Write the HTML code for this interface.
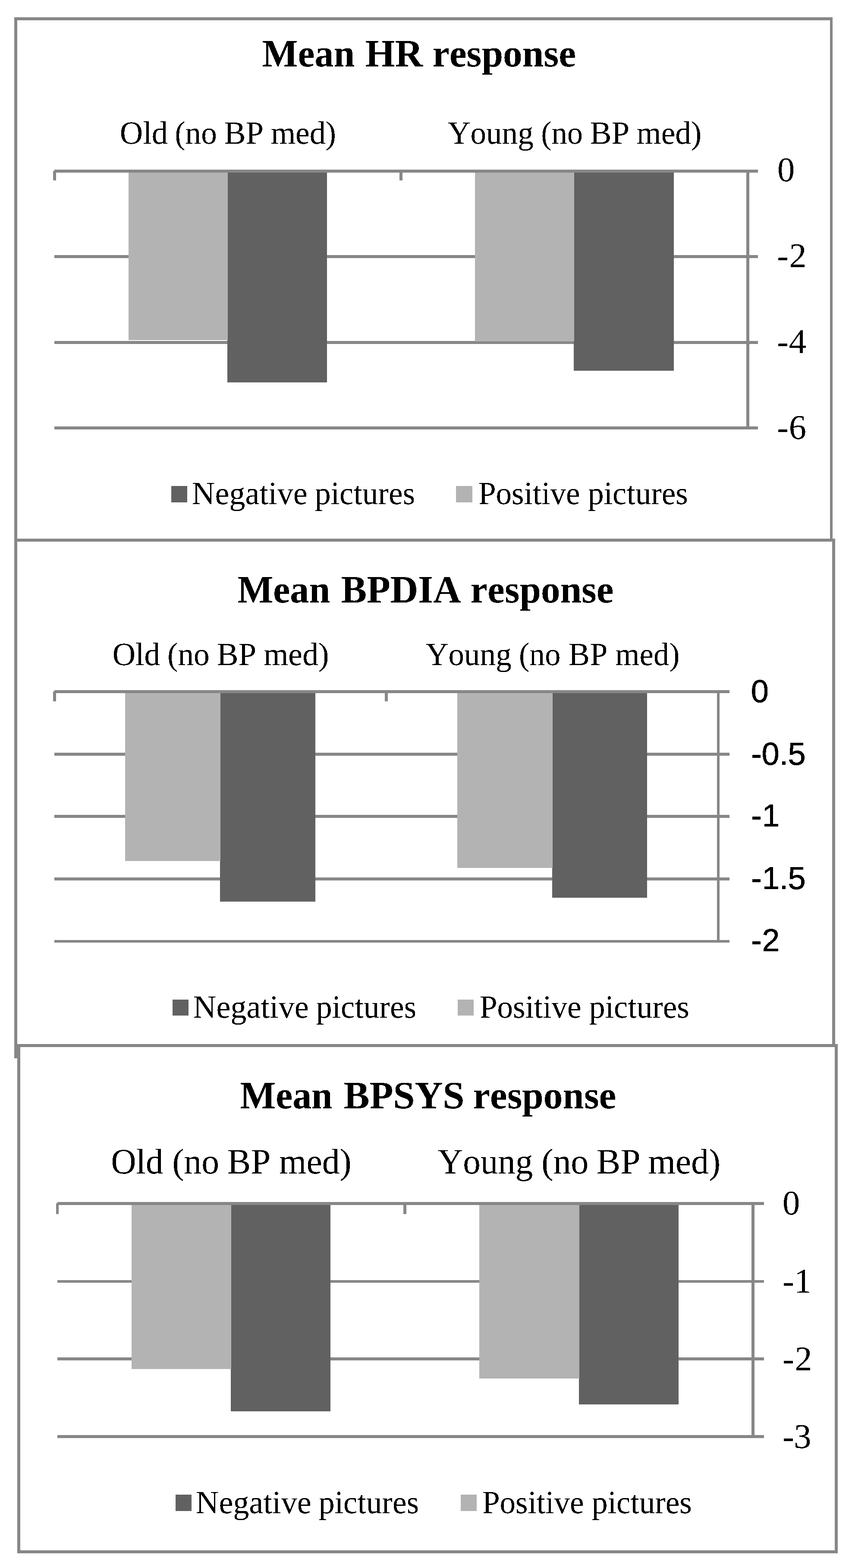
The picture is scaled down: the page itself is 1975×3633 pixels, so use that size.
<!DOCTYPE html>
<html lang="en">
<head>
<meta charset="utf-8">
<title>Mean HR, BPDIA and BPSYS response</title>
<style>
html,body{margin:0;padding:0;background:#ffffff;}
body{width:1975px;height:3633px;overflow:hidden;}
svg{display:block;}
svg rect{shape-rendering:crispEdges;}
svg text{fill:#000000;font-kerning:none;text-rendering:geometricPrecision;white-space:pre;}
</style>
</head>
<body>
<svg width="1975" height="3633" viewBox="0 0 1975 3633" role="img" aria-label="Mean HR, BPDIA and BPSYS response to negative and positive pictures in old and young participants without BP medication">
<defs><filter id="crisp" x="-5%" y="-20%" width="110%" height="140%" color-interpolation-filters="sRGB"><feComponentTransfer><feFuncA type="discrete" tableValues="0 1"/></feComponentTransfer></filter></defs>
<rect x="0" y="0" width="1975" height="3633" fill="#ffffff"/>
<g id="chart-hr" class="chart">
<rect x="33" y="40" width="1897" height="1215" fill="#ffffff"/>
<rect x="33" y="40" width="1897" height="7" fill="#878787"/>
<rect x="33" y="1248" width="1897" height="7" fill="#878787"/>
<rect x="33" y="40" width="7" height="1215" fill="#878787"/>
<rect x="1924" y="40" width="6" height="1215" fill="#878787"/>
<rect x="126" y="591" width="1631" height="7" fill="#878787"/>
<rect x="126" y="790" width="1631" height="7" fill="#878787"/>
<rect x="126" y="988" width="1631" height="7" fill="#878787"/>
<rect x="527" y="397" width="231" height="489" fill="#616161"/>
<rect x="1330" y="397" width="232" height="462" fill="#616161"/>
<rect x="298" y="397" width="230" height="391" fill="#b3b3b3"/>
<rect x="1101" y="397" width="230" height="394" fill="#b3b3b3"/>
<rect x="126" y="393" width="1631" height="7" fill="#878787"/>
<rect x="123" y="396" width="7" height="22" fill="#878787"/>
<rect x="926" y="400" width="7" height="18" fill="#878787"/>
<rect x="1730" y="393" width="7" height="602" fill="#878787"/>
<text filter="url(#crisp)" y="153.80" font-family="'Liberation Serif',serif" font-size="90" font-weight="bold"><tspan x="607.80" textLength="214.25" lengthAdjust="spacingAndGlyphs">Mean</tspan> <tspan x="846.38" textLength="133.57" lengthAdjust="spacingAndGlyphs">HR</tspan> <tspan x="1002.28" textLength="332.69" lengthAdjust="spacingAndGlyphs">response</tspan></text>
<text filter="url(#crisp)" y="333.40" font-family="'Liberation Serif',serif" font-size="75"><tspan x="277.72" textLength="111.11" lengthAdjust="spacingAndGlyphs">Old</tspan> <tspan x="405.24" textLength="97.57" lengthAdjust="spacingAndGlyphs">(no</tspan> <tspan x="519.84" textLength="91.13" lengthAdjust="spacingAndGlyphs">BP</tspan> <tspan x="627.74" textLength="151.42" lengthAdjust="spacingAndGlyphs">med)</tspan></text>
<text filter="url(#crisp)" y="333.40" font-family="'Liberation Serif',serif" font-size="75"><tspan x="1037.78" textLength="198.91" lengthAdjust="spacingAndGlyphs">Young</tspan> <tspan x="1254.37" textLength="96.61" lengthAdjust="spacingAndGlyphs">(no</tspan> <tspan x="1367.84" textLength="91.24" lengthAdjust="spacingAndGlyphs">BP</tspan> <tspan x="1475.65" textLength="150.59" lengthAdjust="spacingAndGlyphs">med)</tspan></text>
<text filter="url(#crisp)" y="420.00" font-family="'Liberation Serif',serif" font-size="80.5" x="1801.97">0</text>
<text filter="url(#crisp)" y="619.00" font-family="'Liberation Serif',serif" font-size="80.5" x="1801.61 1829.29">-2</text>
<text filter="url(#crisp)" y="817.80" font-family="'Liberation Serif',serif" font-size="80.5" x="1801.61 1828.71">-4</text>
<text filter="url(#crisp)" y="1017.00" font-family="'Liberation Serif',serif" font-size="80.5" x="1801.61 1828.65">-6</text>
<text filter="url(#crisp)" y="1168.00" font-family="'Liberation Serif',serif" font-size="75"><tspan x="444.85" textLength="267.84" lengthAdjust="spacingAndGlyphs">Negative</tspan> <tspan x="730.06" textLength="231.87" lengthAdjust="spacingAndGlyphs">pictures</tspan></text>
<text filter="url(#crisp)" y="1168.00" font-family="'Liberation Serif',serif" font-size="75"><tspan x="1108.88" textLength="235.57" lengthAdjust="spacingAndGlyphs">Positive</tspan> <tspan x="1363.06" textLength="231.61" lengthAdjust="spacingAndGlyphs">pictures</tspan></text>
<rect x="397" y="1126" width="37" height="38" fill="#616161"/>
<rect x="1057" y="1126" width="38" height="38" fill="#b3b3b3"/>
</g>
<g id="chart-bpdia" class="chart">
<rect x="33" y="1248" width="1903" height="1204" fill="#ffffff"/>
<rect x="33" y="1248" width="1903" height="7" fill="#878787"/>
<rect x="33" y="2445" width="1903" height="7" fill="#878787"/>
<rect x="33" y="1248" width="7" height="1204" fill="#878787"/>
<rect x="1929" y="1248" width="7" height="1204" fill="#878787"/>
<rect x="126" y="1744" width="1565" height="7" fill="#878787"/>
<rect x="126" y="1888" width="1565" height="7" fill="#878787"/>
<rect x="126" y="2033" width="1565" height="7" fill="#878787"/>
<rect x="126" y="2178" width="1565" height="6" fill="#878787"/>
<rect x="510" y="1603" width="221" height="486" fill="#616161"/>
<rect x="1280" y="1603" width="220" height="477" fill="#616161"/>
<rect x="290" y="1603" width="221" height="392" fill="#b3b3b3"/>
<rect x="1060" y="1603" width="221" height="408" fill="#b3b3b3"/>
<rect x="126" y="1599" width="1565" height="7" fill="#878787"/>
<rect x="123" y="1602" width="7" height="23" fill="#878787"/>
<rect x="892" y="1606" width="7" height="19" fill="#878787"/>
<rect x="1662" y="1599" width="6" height="585" fill="#878787"/>
<text filter="url(#crisp)" y="1395.60" font-family="'Liberation Serif',serif" font-size="90" font-weight="bold"><tspan x="550.50" textLength="214.50" lengthAdjust="spacingAndGlyphs">Mean</tspan> <tspan x="790.50" textLength="278.19" lengthAdjust="spacingAndGlyphs">BPDIA</tspan> <tspan x="1090.59" textLength="331.78" lengthAdjust="spacingAndGlyphs">response</tspan></text>
<text filter="url(#crisp)" y="1541.30" font-family="'Liberation Serif',serif" font-size="75"><tspan x="260.68" textLength="110.74" lengthAdjust="spacingAndGlyphs">Old</tspan> <tspan x="387.98" textLength="97.83" lengthAdjust="spacingAndGlyphs">(no</tspan> <tspan x="502.84" textLength="91.24" lengthAdjust="spacingAndGlyphs">BP</tspan> <tspan x="610.94" textLength="151.73" lengthAdjust="spacingAndGlyphs">med)</tspan></text>
<text filter="url(#crisp)" y="1541.30" font-family="'Liberation Serif',serif" font-size="75"><tspan x="986.68" textLength="199.21" lengthAdjust="spacingAndGlyphs">Young</tspan> <tspan x="1203.03" textLength="96.34" lengthAdjust="spacingAndGlyphs">(no</tspan> <tspan x="1317.85" textLength="90.71" lengthAdjust="spacingAndGlyphs">BP</tspan> <tspan x="1425.96" textLength="149.66" lengthAdjust="spacingAndGlyphs">med)</tspan></text>
<text filter="url(#crisp)" y="1627.00" font-family="'Liberation Sans',sans-serif" font-size="74" stroke="#000000" stroke-width="0.8" x="1740.72">0</text>
<text filter="url(#crisp)" y="1771.50" font-family="'Liberation Sans',sans-serif" font-size="74" stroke="#000000" stroke-width="0.8" x="1740.92 1765.57 1806.74 1826.47">-0.5</text>
<text filter="url(#crisp)" y="1915.30" font-family="'Liberation Sans',sans-serif" font-size="74" stroke="#000000" stroke-width="0.8" x="1740.92 1766.51">-1</text>
<text filter="url(#crisp)" y="2060.00" font-family="'Liberation Sans',sans-serif" font-size="74" stroke="#000000" stroke-width="0.8" x="1740.92 1766.51 1806.74 1826.47">-1.5</text>
<text filter="url(#crisp)" y="2204.00" font-family="'Liberation Sans',sans-serif" font-size="74" stroke="#000000" stroke-width="0.8" x="1740.92 1766.32">-2</text>
<text filter="url(#crisp)" y="2358.00" font-family="'Liberation Serif',serif" font-size="75"><tspan x="447.85" textLength="267.84" lengthAdjust="spacingAndGlyphs">Negative</tspan> <tspan x="733.06" textLength="231.87" lengthAdjust="spacingAndGlyphs">pictures</tspan></text>
<text filter="url(#crisp)" y="2358.00" font-family="'Liberation Serif',serif" font-size="75"><tspan x="1111.88" textLength="235.57" lengthAdjust="spacingAndGlyphs">Positive</tspan> <tspan x="1366.06" textLength="231.61" lengthAdjust="spacingAndGlyphs">pictures</tspan></text>
<rect x="400" y="2316" width="37" height="37" fill="#616161"/>
<rect x="1061" y="2316" width="37" height="37" fill="#b3b3b3"/>
</g>
<g id="chart-bpsys" class="chart">
<rect x="40" y="2419" width="1902" height="1180" fill="#ffffff"/>
<rect x="40" y="2419" width="1902" height="7" fill="#878787"/>
<rect x="40" y="3592" width="1902" height="7" fill="#878787"/>
<rect x="40" y="2419" width="7" height="1180" fill="#878787"/>
<rect x="1935" y="2419" width="7" height="1180" fill="#878787"/>
<rect x="133" y="2966" width="1638" height="6" fill="#878787"/>
<rect x="133" y="3145" width="1638" height="7" fill="#878787"/>
<rect x="133" y="3325" width="1638" height="7" fill="#878787"/>
<rect x="535" y="2789" width="231" height="481" fill="#616161"/>
<rect x="1342" y="2789" width="231" height="465" fill="#616161"/>
<rect x="305" y="2789" width="231" height="383" fill="#b3b3b3"/>
<rect x="1111" y="2789" width="232" height="405" fill="#b3b3b3"/>
<rect x="133" y="2785" width="1638" height="7" fill="#878787"/>
<rect x="130" y="2788" width="6" height="25" fill="#878787"/>
<rect x="935" y="2792" width="7" height="21" fill="#878787"/>
<rect x="1742" y="2785" width="7" height="547" fill="#878787"/>
<text filter="url(#crisp)" y="2567.60" font-family="'Liberation Serif',serif" font-size="90" font-weight="bold"><tspan x="556.50" textLength="214.25" lengthAdjust="spacingAndGlyphs">Mean</tspan> <tspan x="796.49" textLength="279.92" lengthAdjust="spacingAndGlyphs">BPSYS</tspan> <tspan x="1096.59" textLength="331.52" lengthAdjust="spacingAndGlyphs">response</tspan></text>
<text filter="url(#crisp)" y="2719.30" font-family="'Liberation Serif',serif" font-size="83"><tspan x="257.14" textLength="121.36" lengthAdjust="spacingAndGlyphs">Old</tspan> <tspan x="399.41" textLength="108.62" lengthAdjust="spacingAndGlyphs">(no</tspan> <tspan x="526.62" textLength="100.58" lengthAdjust="spacingAndGlyphs">BP</tspan> <tspan x="647.03" textLength="167.73" lengthAdjust="spacingAndGlyphs">med)</tspan></text>
<text filter="url(#crisp)" y="2719.30" font-family="'Liberation Serif',serif" font-size="83"><tspan x="1014.58" textLength="220.72" lengthAdjust="spacingAndGlyphs">Young</tspan> <tspan x="1255.14" textLength="109.15" lengthAdjust="spacingAndGlyphs">(no</tspan> <tspan x="1382.58" textLength="102.17" lengthAdjust="spacingAndGlyphs">BP</tspan> <tspan x="1502.53" textLength="167.73" lengthAdjust="spacingAndGlyphs">med)</tspan></text>
<text filter="url(#crisp)" y="2814.00" font-family="'Liberation Serif',serif" font-size="80.5" x="1813.92">0</text>
<text filter="url(#crisp)" y="2995.20" font-family="'Liberation Serif',serif" font-size="80.5" x="1813.76 1841.00">-1</text>
<text filter="url(#crisp)" y="3175.30" font-family="'Liberation Serif',serif" font-size="80.5" x="1813.76 1842.19">-2</text>
<text filter="url(#crisp)" y="3355.30" font-family="'Liberation Serif',serif" font-size="80.5" x="1813.76 1840.22">-3</text>
<text filter="url(#crisp)" y="3506.00" font-family="'Liberation Serif',serif" font-size="75"><tspan x="453.85" textLength="267.84" lengthAdjust="spacingAndGlyphs">Negative</tspan> <tspan x="739.06" textLength="231.87" lengthAdjust="spacingAndGlyphs">pictures</tspan></text>
<text filter="url(#crisp)" y="3506.00" font-family="'Liberation Serif',serif" font-size="75"><tspan x="1117.88" textLength="235.57" lengthAdjust="spacingAndGlyphs">Positive</tspan> <tspan x="1372.06" textLength="231.61" lengthAdjust="spacingAndGlyphs">pictures</tspan></text>
<rect x="407" y="3463" width="37" height="38" fill="#616161"/>
<rect x="1068" y="3463" width="37" height="38" fill="#b3b3b3"/>
</g>
</svg>
</body>
</html>
